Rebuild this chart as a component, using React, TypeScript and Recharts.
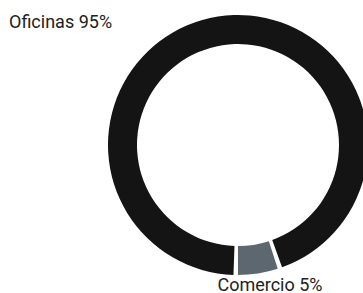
import { Pie, PieChart, Cell } from 'recharts';

const categories = ['Comercio', 'Oficinas'];
const shares = [5, 95];
const colors = ['#5d6770', '#141414'];

const data = categories.map((name, i) => ({ name, value: shares[i] }));

// labels sit outside the ring, one top-left and one under the small slice
const LABEL_POS = [
  { x: 270, y: 291, anchor: 'middle' },
  { x: 9, y: 28, anchor: 'start' },
];

const renderLabel = (props: any) => {
  const { index, name, value } = props;
  const p = LABEL_POS[index];
  return (
    <text x={p.x} y={p.y} textAnchor={p.anchor} fill="#222" fontSize={18} fontFamily="Roboto">
      {`${name} ${value}%`}
    </text>
  );
};

export default function App() {
  return (
    <div style={{ position: 'absolute', left: 0, top: 0 }}>
      <PieChart width={363} height={293}>
        <Pie
          data={data}
          dataKey="value"
          nameKey="name"
          cx={233}
          cy={140}
          innerRadius={101}
          outerRadius={130}
          startAngle={-90}
          endAngle={270}
          paddingAngle={2}
          stroke="none"
          label={renderLabel}
          labelLine={false}
          isAnimationActive={false}
        >
          {data.map((d, i) => (
            <Cell key={d.name} fill={colors[i]} />
          ))}
        </Pie>
      </PieChart>
    </div>
  );
}
